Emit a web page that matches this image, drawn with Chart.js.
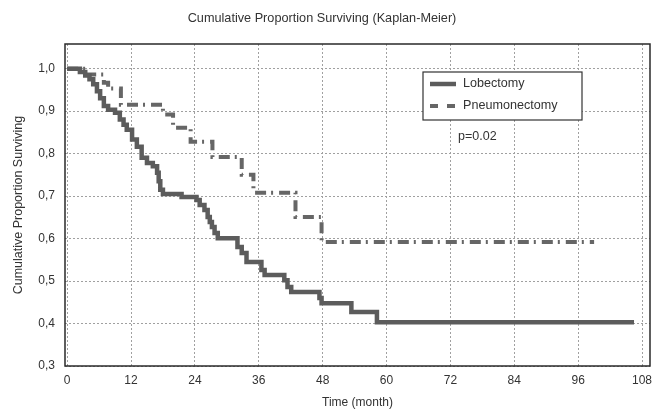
<!DOCTYPE html>
<html>
<head>
<meta charset="utf-8">
<script src="https://cdn.jsdelivr.net/npm/chart.js@4.4.1/dist/chart.umd.min.js"></script>
<style>
html,body{margin:0;padding:0;background:#ffffff;}
#wrap{width:655px;height:412px;}
</style>
</head>
<body>
<div id="wrap"><canvas id="c" width="655" height="412"></canvas></div>
<script>
// ---- text ----
const chartTitle = 'Cumulative Proportion Surviving (Kaplan-Meier)';
const xAxisTitle = 'Time (month)';
const yAxisTitle = 'Cumulative Proportion Surviving';
const seriesNames = ['Lobectomy', 'Pneumonectomy'];
const pValueText = 'p=0.02';

// ---- tick values ----
const xTicks = [0, 12, 24, 36, 48, 60, 72, 84, 96, 108];
const yTicks = [0.3, 0.4, 0.5, 0.6, 0.7, 0.8, 0.9, 1.0];

// ---- Lobectomy (month of step, survival after step) ----
const lobMonths = [0, 2.4, 3.4, 4.2, 4.9, 5.6, 6.2, 6.9, 7.7, 9.0, 9.9, 10.6, 11.2, 12.2, 13.1, 14.0, 15.0, 16.1, 16.9, 17.2, 17.5, 18.0, 21.5, 24.3, 24.9, 25.8, 26.4, 26.8, 27.2, 27.7, 28.3, 32.0, 32.8, 33.7, 36.5, 37.1, 40.8, 41.4, 42.1, 47.4, 47.8, 53.4, 58.2, 106.5];
const lobSurv   = [1.000, 0.992, 0.984, 0.975, 0.963, 0.947, 0.930, 0.912, 0.903, 0.896, 0.880, 0.868, 0.856, 0.833, 0.816, 0.790, 0.778, 0.770, 0.755, 0.735, 0.715, 0.705, 0.698, 0.691, 0.679, 0.667, 0.651, 0.639, 0.627, 0.613, 0.601, 0.580, 0.566, 0.545, 0.526, 0.514, 0.502, 0.486, 0.474, 0.460, 0.448, 0.427, 0.403, 0.403];

// ---- Pneumonectomy ----
const pneMonths = [0, 3.5, 6.9, 7.7, 10.1, 18.0, 19.9, 23.2, 27.3, 32.8, 35.0, 42.9, 47.8, 99.0];
const pneSurv   = [1.000, 0.986, 0.967, 0.953, 0.915, 0.892, 0.861, 0.828, 0.792, 0.750, 0.708, 0.651, 0.592, 0.592];

Chart.defaults.font.family = "'Liberation Sans', Arial, sans-serif";
Chart.defaults.color = '#333333';

const lineGrey = '#5c5c5c';
const dashGrey = '#666666';

const decor = {
  id: 'decor',
  afterDraw(chart) {
    const ctx = chart.ctx;
    const a = chart.chartArea;
    ctx.save();
    // frame
    ctx.strokeStyle = '#2a2a2a';
    ctx.lineWidth = 1.5;
    ctx.setLineDash([]);
    ctx.strokeRect(a.left, a.top, a.right - a.left, a.bottom - a.top);
    // title
    ctx.fillStyle = '#333333';
    ctx.font = "12.7px 'Liberation Sans', Arial, sans-serif";
    ctx.textAlign = 'center';
    ctx.textBaseline = 'middle';
    ctx.fillText(chartTitle, 322, 18);
    // legend box
    ctx.fillStyle = '#ffffff';
    ctx.fillRect(423, 72, 159, 48);
    ctx.strokeStyle = '#333333';
    ctx.lineWidth = 1.2;
    ctx.strokeRect(423, 72, 159, 48);
    const ds = chart.data.datasets;
    const rows = [84, 106];
    ds.forEach((d, i) => {
      ctx.strokeStyle = d.borderColor;
      ctx.lineWidth = d.borderWidth;
      ctx.setLineDash(i === 0 ? [] : [8, 9]);
      ctx.beginPath();
      ctx.moveTo(430, rows[i]);
      ctx.lineTo(456, rows[i]);
      ctx.stroke();
      ctx.setLineDash([]);
      ctx.fillStyle = '#333333';
      ctx.font = "12.6px 'Liberation Sans', Arial, sans-serif";
      ctx.textAlign = 'left';
      ctx.textBaseline = 'middle';
      ctx.fillText(d.label, 463, rows[i]);
    });
    // p value
    ctx.fillStyle = '#333333';
    ctx.font = "12.5px 'Liberation Sans', Arial, sans-serif";
    ctx.textAlign = 'left';
    ctx.textBaseline = 'middle';
    ctx.fillText(pValueText, 458, 137);
    ctx.restore();
  }
};

new Chart(document.getElementById('c'), {
  type: 'line',
  data: {
    datasets: [
      {
        label: seriesNames[0],
        data: lobMonths.map((m, i) => ({x: m, y: lobSurv[i]})),
        stepped: 'before',
        borderColor: lineGrey,
        borderWidth: 4.5,
        borderJoinStyle: 'miter',
        pointRadius: 0,
        fill: false
      },
      {
        label: seriesNames[1],
        data: pneMonths.map((m, i) => ({x: m, y: pneSurv[i]})),
        stepped: 'before',
        borderColor: dashGrey,
        borderWidth: 4,
        borderDash: [11, 5, 2, 6],
        borderJoinStyle: 'miter',
        pointRadius: 0,
        fill: false
      }
    ]
  },
  options: {
    responsive: false,
    animation: false,
    devicePixelRatio: 1,
    layout: {padding: {top: 44, right: 5, left: 0, bottom: 0}},
    plugins: {
      legend: {display: false},
      title: {display: false},
      tooltip: {enabled: false}
    },
    scales: {
      x: {
        type: 'linear',
        min: -0.4,
        max: 109.5,
        afterBuildTicks: s => { s.ticks = xTicks.map(v => ({value: v})); },
        afterFit: s => { s.height = 46; s.paddingLeft = 0; s.paddingRight = 0; },
        grid: {color: '#a0a0a0', lineWidth: 1, drawTicks: false},
        border: {display: false, dash: [2, 2]},
        ticks: {color: '#333333', font: {size: 12}, padding: 7, maxRotation: 0, autoSkip: false},
        title: {display: true, text: xAxisTitle, color: '#333333', font: {size: 12}, padding: {top: 0, bottom: 2}}
      },
      y: {
        type: 'linear',
        min: 0.3,
        max: 1.058,
        afterBuildTicks: s => { s.ticks = yTicks.map(v => ({value: v})); },
        afterFit: s => { s.width = 65; s.paddingTop = 0; s.paddingBottom = 0; },
        grid: {color: '#a0a0a0', lineWidth: 1, drawTicks: false},
        border: {display: false, dash: [2, 2]},
        ticks: {color: '#333333', font: {size: 12}, padding: 10, autoSkip: false,
                callback: v => Number(v).toFixed(1).replace('.', ',')},
        title: {display: true, text: yAxisTitle, color: '#333333', font: {size: 12.5}, padding: {top: 11, bottom: 0}}
      }
    }
  },
  plugins: [decor]
});
</script>
</body>
</html>
